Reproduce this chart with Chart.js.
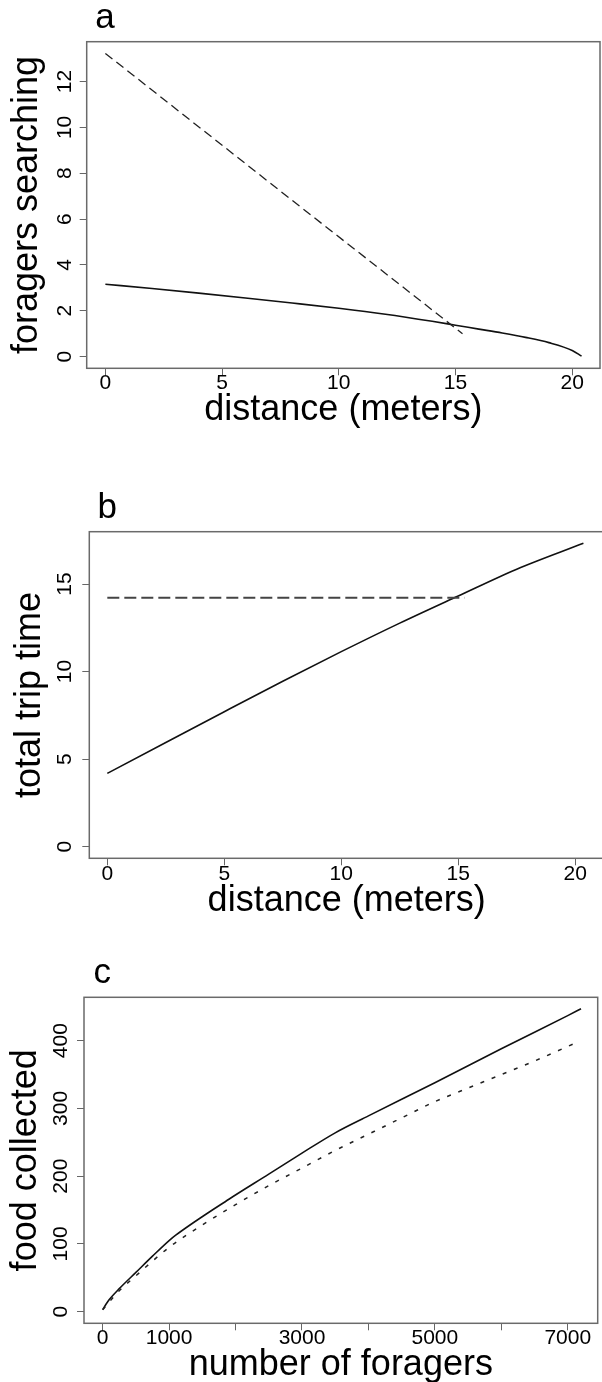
<!DOCTYPE html>
<html><head><meta charset="utf-8">
<script src="https://cdn.jsdelivr.net/npm/chart.js@4"></script>
<style>
html,body{margin:0;padding:0;background:#fff;}
#wrap{position:relative;width:602px;height:1382px;overflow:hidden;background:#fff;}
canvas{position:absolute;left:0;}
</style></head><body>
<div id="wrap">
<canvas id="ca" width="602" height="450" style="top:0;width:602px;height:450px"></canvas>
<canvas id="cb" width="610" height="485" style="top:450px;width:610px;height:485px"></canvas>
<canvas id="cc" width="602" height="457" style="top:935px;width:602px;height:457px"></canvas>
</div>
<script>
// ---- Panel a: foragers searching vs distance ----
const aSolidX = [0, 2, 4, 6, 8, 10, 12, 14, 15, 16, 17, 18, 19, 20, 20.4];
const aSolidY = [3.16, 2.97, 2.77, 2.56, 2.34, 2.11, 1.85, 1.54, 1.37, 1.2, 1.03, 0.84, 0.61, 0.27, 0.02];
const aDashX = [0, 8.3, 15.3];
const aDashY = [13.23, 6.58, 1.0];
const aXTicks = [0, 5, 10, 15, 20];
const aYTicks = [0, 2, 4, 6, 8, 10, 12];

// ---- Panel b: total trip time vs distance ----
const bSolidX = [0, 2.5, 5, 7.5, 10, 12.5, 15, 17.5, 20.35];
const bSolidY = [4.19, 5.95, 7.71, 9.45, 11.14, 12.77, 14.32, 15.85, 17.33];
const bDashX = [0, 15.27];
const bDashY = [14.22, 14.22];
const bXTicks = [0, 5, 10, 15, 20];
const bYTicks = [0, 5, 10, 15];

// ---- Panel c: food collected vs number of foragers ----
const cSolidX = [0, 50, 100, 250, 500, 750, 1000, 1100, 1900, 2500, 3000, 3500, 4000, 5000, 6000, 7000, 7200];
const cSolidY = [3, 11, 18, 34, 58, 82, 105, 113, 166, 203, 234, 264, 289, 338, 388, 437, 447];
const cDotX = [0, 250, 500, 1000, 1500, 2000, 2500, 3000, 3500, 4000, 4500, 5000, 5500, 6000, 6500, 7150];
const cDotY = [3, 31, 53, 95, 128, 158, 186, 212, 238, 262, 286, 310, 330, 350, 370, 398];
const cXTicks = [0, 1000, 2000, 3000, 4000, 5000, 6000, 7000];
const cXTickLabels = [0, 1000, 3000, 5000, 7000];
const cYTicks = [0, 100, 200, 300, 400];

const FONT = '"Liberation Sans", Arial, Helvetica, sans-serif';
const toXY = (xs, ys) => xs.map((x, i) => ({x: x, y: ys[i]}));

const panelBox = {
  id: 'panelBox',
  afterDatasetsDraw(chart, args, opts) {
    const ctx = chart.ctx, a = chart.chartArea;
    ctx.save();
    ctx.strokeStyle = '#6a6a6a';
    ctx.lineWidth = 1.5;
    ctx.strokeRect(a.left, a.top, a.right - a.left, a.bottom - a.top);
    ctx.fillStyle = '#000';
    ctx.font = '35px ' + FONT;
    ctx.textAlign = 'left';
    ctx.textBaseline = 'alphabetic';
    ctx.fillText(opts.letter, opts.lx, opts.ly);
    ctx.restore();
  }
};

function makePanel(id, p) {
  return new Chart(document.getElementById(id), {
    type: 'line',
    data: {datasets: p.datasets},
    plugins: [panelBox],
    options: {
      responsive: false, animation: false, devicePixelRatio: 1,
      layout: {padding: {top: p.top, right: p.right, left: 0, bottom: 0}},
      plugins: {
        legend: {display: false}, tooltip: {enabled: false},
        panelBox: {letter: p.letter, lx: p.lx, ly: p.ly}
      },
      elements: {point: {radius: 0}, line: {tension: 0}},
      scales: {
        x: {
          type: 'linear', min: p.xmin, max: p.xmax,
          afterFit: s => { s.height = p.xH; },
          afterBuildTicks: s => { s.ticks = p.xTicks.map(v => ({value: v})); },
          border: {display: false},
          grid: {drawOnChartArea: false, drawTicks: true, tickLength: 7, color: '#666', lineWidth: 1},
          ticks: {
            autoSkip: false, maxRotation: 0, minRotation: 0, padding: p.xPad, color: '#000',
            font: {family: FONT, size: 21, lineHeight: 1},
            callback: v => (p.xLabels ? (p.xLabels.includes(v) ? String(v) : '') : String(v))
          },
          title: {display: true, text: p.xTitle, color: '#000',
                  font: {family: FONT, size: 36, lineHeight: 1},
                  padding: {top: 0, bottom: p.xTitlePad}}
        },
        y: {
          type: 'linear', min: p.ymin, max: p.ymax,
          afterFit: s => { s.width = p.yW; },
          afterBuildTicks: s => { s.ticks = p.yTicks.map(v => ({value: v})); },
          border: {display: false},
          grid: {drawOnChartArea: false, drawTicks: true, tickLength: 7, color: '#666', lineWidth: 1},
          ticks: {
            autoSkip: false, minRotation: 90, maxRotation: 90, crossAlign: 'center',
            padding: p.yPad, color: '#000',
            font: {family: FONT, size: 21, lineHeight: 1},
            callback: v => String(v)
          },
          title: {display: true, text: p.yTitle, color: '#000',
                  font: {family: FONT, size: 36, lineHeight: 1},
                  padding: {top: p.yTitlePad, bottom: 0}}
        }
      }
    }
  });
}

makePanel('ca', {
  letter: 'a', lx: 95.3, ly: 28.3,
  top: 41.7, right: 2, xH: 81.7, yW: 86.7,
  xmin: -0.8, xmax: 21.19, ymin: -0.51, ymax: 13.74,
  xTicks: aXTicks, yTicks: aYTicks,
  xPad: -3, yPad: 3, xTitlePad: 22, yTitlePad: 8.8,
  xTitle: 'distance (meters)', yTitle: 'foragers searching',
  datasets: [
    {data: toXY(aDashX, aDashY), borderColor: '#222', borderWidth: 1.3, borderDash: [9, 5], fill: false},
    {data: toXY(aSolidX, aSolidY), borderColor: '#111', borderWidth: 1.6, fill: false, cubicInterpolationMode: 'monotone'}
  ]
});

makePanel('cb', {
  letter: 'b', lx: 97.5, ly: 68.3,
  top: 81.7, right: 6, xH: 76.7, yW: 89.3,
  xmin: -0.77, xmax: 21.23, ymin: -0.66, ymax: 17.99,
  xTicks: bXTicks, yTicks: bYTicks,
  xPad: -2, yPad: 5, xTitlePad: 15.5, yTitlePad: 12.2,
  xTitle: 'distance (meters)', yTitle: 'total trip time',
  datasets: [
    {data: toXY(bDashX, bDashY), borderColor: '#444', borderWidth: 2, borderDash: [12, 5], fill: false},
    {data: toXY(bSolidX, bSolidY), borderColor: '#111', borderWidth: 1.6, fill: false, cubicInterpolationMode: 'monotone'}
  ]
});

makePanel('cc', {
  letter: 'c', lx: 93.6, ly: 48.3,
  top: 62.3, right: 4.3, xH: 68.7, yW: 84,
  xmin: -281, xmax: 7451, ymin: -17.1, ymax: 464,
  xTicks: cXTicks, xLabels: cXTickLabels, yTicks: cYTicks,
  xPad: -3, yPad: -1.3, xTitlePad: 8.5, yTitlePad: 7.8,
  xTitle: 'number of foragers', yTitle: 'food collected',
  datasets: [
    {data: toXY(cDotX, cDotY), borderColor: '#222', borderWidth: 1.5, borderDash: [4, 8], fill: false, cubicInterpolationMode: 'monotone'},
    {data: toXY(cSolidX, cSolidY), borderColor: '#111', borderWidth: 1.6, fill: false, cubicInterpolationMode: 'monotone'}
  ]
});
</script>
</body></html>
